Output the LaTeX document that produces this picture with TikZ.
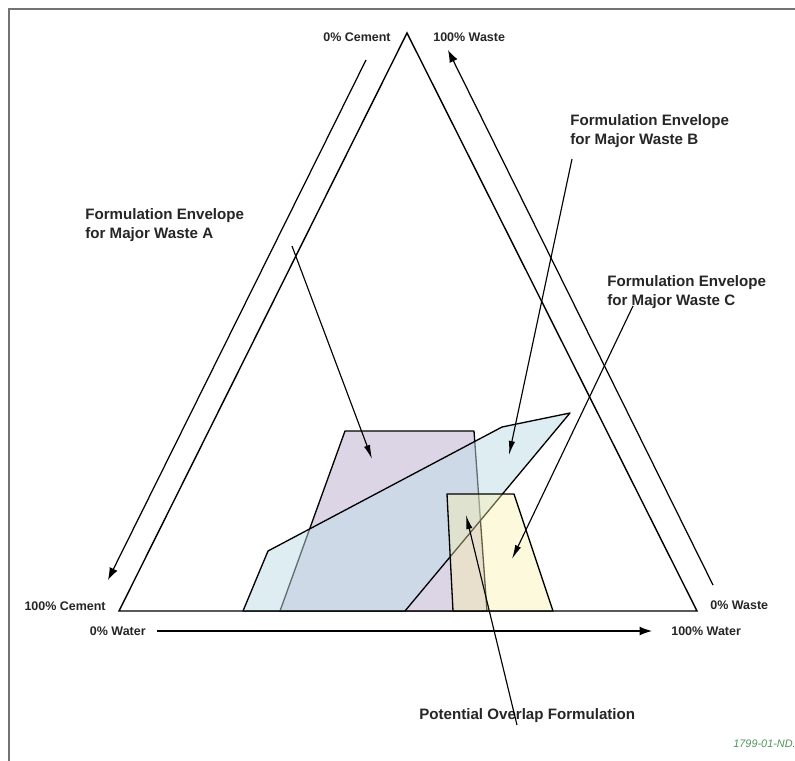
\documentclass[tikz,border=0pt]{standalone}
\usepackage{fontspec}
\setmainfont{Liberation Sans}
\usetikzlibrary{arrows.meta}
\definecolor{envA}{RGB}{198,185,213}
\definecolor{envB}{RGB}{191,221,231}
\definecolor{envC}{RGB}{250,240,170}
\definecolor{tagGreen}{RGB}{80,150,90}

\begin{document}
\begin{tikzpicture}[x=0.02cm,y=-0.02cm,
    lbl/.style={font=\fontsize{8.6}{10.8}\selectfont\bfseries,inner sep=0pt,text=black!85,align=left},
    corner/.style={lbl,font=\fontsize{7.1}{9}\selectfont\bfseries},
    side/.style={line width=0.8pt,line join=miter},
    axis/.style={-{Latex[length=7pt,width=5pt]},line width=0.7pt},
    env/.style={draw,line width=0.75pt,line join=round},
    ptr/.style={-{Latex[length=8pt,width=3.6pt]},line width=0.65pt}]
    \useasboundingbox (0,0) rectangle (795,761);
    \fill[white] (0,0) rectangle (795,761);
    \draw[black!55,line width=1.2pt] (9,761) -- (9,9) -- (795,9);

    % triangle corners
    \coordinate (top) at (407,33);
    \coordinate (cem) at (119,611);
    \coordinate (wat) at (697,611);
    \draw[side] (top) -- (cem) -- (wat) -- cycle;

    % axis arrows
    \coordinate (cemS) at (366,60);
    \coordinate (cemE) at (108,580);
    \coordinate (wasS) at (713,585);
    \coordinate (wasE) at (448,50);
    \coordinate (watS) at (157,631);
    \coordinate (watE) at (652,631);
    \draw[axis] (cemS) -- (cemE);
    \draw[axis] (wasS) -- (wasE);
    \draw[axis] (watS) -- (watE);

    \node[corner,anchor=east] (c0) at (391,37) {0\% Cement};
    \node[corner,anchor=west] (w100) at (433,37) {100\% Waste};
    \node[corner,anchor=east] (c100) at (106,606) {100\% Cement};
    \node[corner,anchor=west] (w0) at (710,605) {0\% Waste};
    \node[corner,anchor=east] (wt0) at (146,631) {0\% Water};
    \node[corner,anchor=west] (wt100) at (671,631) {100\% Water};

    % envelopes
    \draw[env,fill=envA,fill opacity=0.6] (280,611) -- (345,431) -- (474,431) -- (487,611) -- cycle;
    \draw[env,fill=envB,fill opacity=0.5] (243,611) -- (268,551) -- (502,427) -- (570,413) -- (405,611) -- cycle;
    \draw[env,fill=envC,fill opacity=0.4] (447,494) -- (514,494) -- (553,611) -- (453,611) -- cycle;

    \node[lbl,anchor=west] (labA) at (85,225.5) {Formulation Envelope\\for Major Waste A};
    \node[lbl,anchor=west] (labB) at (570,131.5) {Formulation Envelope\\for Major Waste B};
    \node[lbl,anchor=west] (labC) at (607,292.5) {Formulation Envelope\\for Major Waste C};
    \node[lbl,anchor=west] (labO) at (419,716) {Potential Overlap Formulation};

    \coordinate (tailA) at (292,246);
    \coordinate (inA) at (372,459);
    \coordinate (tailB) at (572,159);
    \coordinate (inB) at (509,455);
    \coordinate (tailC) at (633,306);
    \coordinate (inC) at (512,559);
    \coordinate (tailO) at (517,725);
    \coordinate (inO) at (466,515);
    \draw[ptr] (tailA) -- (inA);
    \draw[ptr] (tailB) -- (inB);
    \draw[ptr] (tailC) -- (inC);
    \draw[ptr] (tailO) -- (inO);

    \node[font=\fontsize{6.2}{7}\selectfont\itshape,text=tagGreen,inner sep=0pt,anchor=west] (tag) at (733,744) {1799-01-ND.};
\end{tikzpicture}
\end{document}
